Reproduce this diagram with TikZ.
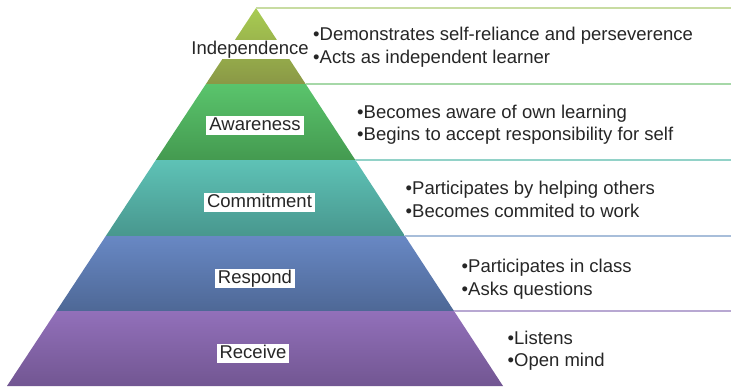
\documentclass[tikz,border=0pt]{standalone}
\usepackage{fontspec}
\setmainfont{Liberation Sans}
\definecolor{indT}{HTML}{A8CC52}
\definecolor{indB}{HTML}{8A9846}
\definecolor{awaT}{HTML}{5AC46C}
\definecolor{awaB}{HTML}{449A50}
\definecolor{comT}{HTML}{5EC2B6}
\definecolor{comB}{HTML}{48978E}
\definecolor{resT}{HTML}{6888C4}
\definecolor{resB}{HTML}{4E6896}
\definecolor{recT}{HTML}{9270BA}
\definecolor{recB}{HTML}{725692}
\definecolor{lnA}{HTML}{C8DCA2}
\definecolor{lnB}{HTML}{A6D8A8}
\definecolor{lnC}{HTML}{92D2C8}
\definecolor{lnD}{HTML}{A8BEDA}
\definecolor{lnE}{HTML}{B8A8D2}
\definecolor{txt}{HTML}{262626}
\begin{document}
\begin{tikzpicture}[x=1pt,y=-1pt,
  lbl/.style={fill=white,inner xsep=3pt,inner ysep=0.5pt,text height=13.5pt,text depth=4.5pt,anchor=base,text=txt,font=\fontsize{18.5}{23}\selectfont},
  bul/.style={inner sep=0pt,anchor=base west,text=txt,font=\fontsize{18.5}{23}\selectfont},
  sep/.style={line width=2pt}]
\useasboundingbox (0,0) rectangle (731,388);
% pyramid corners and band edges
\coordinate (apex) at (256,8);
\coordinate (bl) at (7,386);
\coordinate (br) at (503,386);
\coordinate (La) at (205.94,84);  \coordinate (Ra) at (305.66,84);
\coordinate (Lb) at (155.87,160); \coordinate (Rb) at (355.32,160);
\coordinate (Lc) at (105.81,236); \coordinate (Rc) at (404.98,236);
\coordinate (Ld) at (56.4,311);   \coordinate (Rd) at (454.0,311);
\coordinate (ea) at (731,8);
\coordinate (eb) at (731,84);
\coordinate (ec) at (731,160);
\coordinate (ed) at (731,236);
\coordinate (ee) at (731,311);
% bands
\shade[top color=indT,bottom color=indB] (apex) -- (Ra) -- (La) -- cycle;
\shade[top color=awaT,bottom color=awaB] (La) -- (Ra) -- (Rb) -- (Lb) -- cycle;
\shade[top color=comT,bottom color=comB] (Lb) -- (Rb) -- (Rc) -- (Lc) -- cycle;
\shade[top color=resT,bottom color=resB] (Lc) -- (Rc) -- (Rd) -- (Ld) -- cycle;
\shade[top color=recT,bottom color=recB] (Ld) -- (Rd) -- (br) -- (bl) -- cycle;
% separator lines
\draw[sep,lnA] (apex) -- (ea);
\draw[sep,lnB] (Ra) -- (eb);
\draw[sep,lnC] (Rb) -- (ec);
\draw[sep,lnD] (Rc) -- (ed);
\draw[sep,lnE] (Rd) -- (ee);
% labels
\node[lbl] (l1) at (250,54) {Independence};
\node[lbl] (l2) at (255,130) {Awareness};
\node[lbl] (l3) at (259.5,207) {Commitment};
\node[lbl] (l4) at (255,283) {Respond};
\node[lbl] (l5) at (253,358) {Receive};
% bullets
\node[bul] (b1a) at (313,40) {•Demonstrates self-reliance and perseverence};
\node[bul] (b1b) at (313,63) {•Acts as independent learner};
\node[bul] (b2a) at (357,118) {•Becomes aware of own learning};
\node[bul] (b2b) at (357,140) {•Begins to accept responsibility for self};
\node[bul] (b3a) at (405.5,194) {•Participates by helping others};
\node[bul] (b3b) at (405.5,217) {•Becomes commited to work};
\node[bul] (b4a) at (461.5,272) {•Participates in class};
\node[bul] (b4b) at (461.5,295) {•Asks questions};
\node[bul] (b5a) at (507.5,344) {•Listens};
\node[bul] (b5b) at (507.5,366) {•Open mind};
\end{tikzpicture}
\end{document}
